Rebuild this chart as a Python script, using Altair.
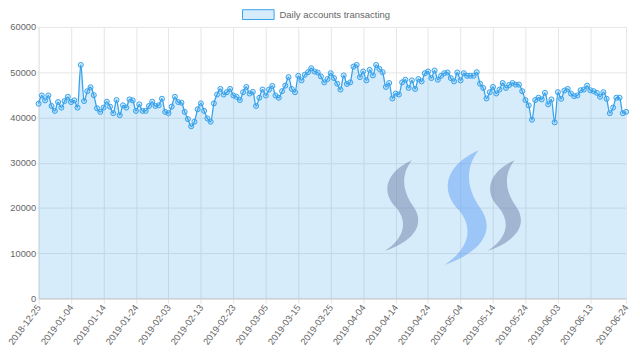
import altair as alt
import pandas as pd

series_name = "Daily accounts transacting"
start_date = "2018-12-25"
values = [
    43040, 44850, 43770, 44850, 42530, 41450, 43400, 42170, 43620, 44560,
    43400, 43770, 42170, 51600, 43620, 45800, 46670, 44930, 42030, 41230,
    42170, 43480, 42390, 40940, 43840, 40500, 42680, 42170, 43980, 43770,
    41450, 42900, 41450, 41450, 42530, 43480, 42530, 42680, 44130, 41230,
    40940, 42390, 44560, 43400, 43260, 41230, 39630, 38040, 39050, 41810,
    43110, 41450, 39780, 39050, 43110, 45070, 46300, 45070, 45580, 46300,
    44850, 44560, 43840, 45580, 46740, 45290, 45650, 42530, 44350, 46160,
    44850, 46160, 46960, 44850, 44350, 45800, 47030, 48910, 46300, 45580,
    49200, 48190, 49420, 50000, 50870, 50150, 49930, 49060, 47750, 48480,
    49780, 48700, 47460, 46160, 49280, 47390, 47750, 51230, 51600, 48910,
    50150, 48190, 50510, 49280, 51600, 50730, 50000, 46740, 47610, 44200,
    45290, 45070, 47750, 48330, 46520, 48190, 46300, 48480, 47970, 49780,
    50150, 48700, 50360, 48330, 49200, 49780, 49930, 48700, 47970, 49930,
    48190, 49780, 49200, 49200, 49200, 50000, 47460, 46520, 44200, 45580,
    46740, 45290, 46160, 47610, 46520, 47170, 47610, 47250, 47250, 45800,
    43840, 42680, 39490, 43840, 44350, 43980, 45430, 42900, 43980, 38910,
    45580, 44130, 45940, 46300, 45290, 44710, 44850, 46010, 46160, 47030,
    46010, 45800, 45430, 44560, 45580, 44130, 40940, 42170, 44350, 44350,
    40940, 41230,
]
dates = pd.date_range(start_date, periods=len(values), freq="D").strftime("%Y-%m-%d").tolist()
tick_labels = [
    "2018-12-25", "2019-01-04", "2019-01-14", "2019-01-24", "2019-02-03",
    "2019-02-13", "2019-02-23", "2019-03-05", "2019-03-15", "2019-03-25",
    "2019-04-04", "2019-04-14", "2019-04-24", "2019-05-04", "2019-05-14",
    "2019-05-24", "2019-06-03", "2019-06-13", "2019-06-24",
]
y_ticks = [0, 10000, 20000, 30000, 40000, 50000, 60000]

df = pd.DataFrame({"date": dates, "value": values, "series": series_name})

FONT = "Liberation Sans"
GRID = "#e6e6e6"
BLUE = "#36a2eb"

x_enc = alt.X(
    "date:O",
    scale=alt.Scale(type="point", padding=0),
    axis=alt.Axis(
        values=tick_labels, title=None, labelAngle=-53, labelAlign="right",
        labelBaseline="middle", grid=True, gridColor=GRID, tickColor=GRID,
        tickSize=5, domainColor="#c4c4c4", labelColor="#666666",
        labelFontSize=9.4, labelFont=FONT, labelPadding=2,
    ),
)
y_enc = alt.Y(
    "value:Q",
    scale=alt.Scale(domain=[0, 60000], nice=False),
    axis=alt.Axis(
        values=y_ticks, format="d", title=None, grid=True, gridColor=GRID,
        tickColor=GRID, tickSize=2, domainColor=GRID, labelColor="#666666",
        labelFontSize=9.4, labelFont=FONT, labelPadding=1,
    ),
)

base = alt.Chart(df).encode(x=x_enc, y=y_enc)

area = base.mark_area(opacity=1, interpolate="monotone").encode(
    color=alt.Color(
        "series:N",
        scale=alt.Scale(domain=[series_name], range=["rgba(54,162,235,0.2)"]),
        legend=alt.Legend(
            title=None, orient="none", legendX=206, legendY=-29,
            symbolType="M-1,-0.31H1V0.31H-1Z", symbolSize=1024,
            symbolStrokeColor=BLUE, symbolStrokeWidth=1, symbolOpacity=1,
            labelFont=FONT, labelFontSize=9.6, labelColor="#666666",
            labelOffset=5,
        ),
    )
)
line = base.mark_line(color=BLUE, strokeWidth=1.3, interpolate="monotone")
points = base.mark_point(
    filled=True, fill=BLUE, fillOpacity=0.2, stroke=BLUE, strokeWidth=1,
    size=26, opacity=1,
)

swoosh = ("M0.22,-1C-0.35,-0.75,-0.48,-0.3,-0.12,0.05C0.12,0.35,0.08,0.7,-0.38,1"
          "C0.35,0.75,0.5,0.35,0.24,0C0.0,-0.35,-0.02,-0.7,0.22,-1Z")
logo_df = pd.DataFrame({"k": [0]})
logo_left = alt.Chart(logo_df).mark_point(
    shape=swoosh, size=8464, filled=True, fill="#6e7fa8", opacity=0.5, strokeWidth=0
).encode(x=alt.value(368), y=alt.value(181))
logo_mid = alt.Chart(logo_df).mark_point(
    shape=swoosh, size=13456, filled=True, fill="#61a0f3", opacity=0.5, strokeWidth=0
).encode(x=alt.value(433), y=alt.value(183))
logo_right = alt.Chart(logo_df).mark_point(
    shape=swoosh, size=8464, filled=True, fill="#6e7fa8", opacity=0.5, strokeWidth=0
).encode(x=alt.value(472), y=alt.value(181))

chart = alt.layer(area, line, points, logo_left, logo_mid, logo_right).properties(
    width=595, height=275,
    autosize=alt.AutoSizeParams(type="none"),
    padding={"left": 31, "top": 17, "right": 6, "bottom": 48},
).configure_view(stroke=None)

chart.save("out.html", embed_options={"renderer": "svg", "actions": False})
